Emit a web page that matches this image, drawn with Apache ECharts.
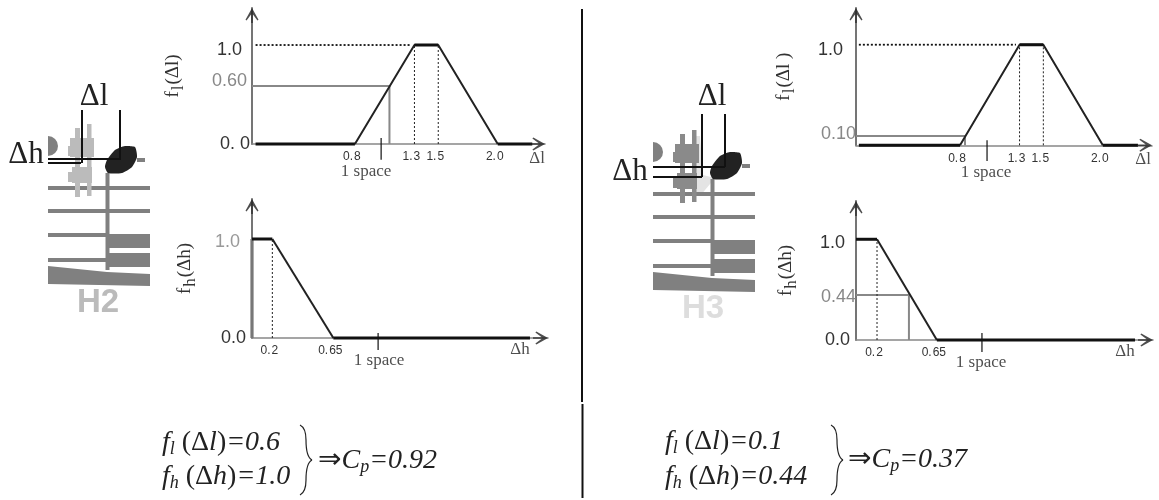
<!DOCTYPE html>
<html><head><meta charset="utf-8">
<style>html,body{margin:0;padding:0;background:#fff}#c{width:1159px;height:500px}</style>
<script src="https://cdn.jsdelivr.net/npm/echarts@6/dist/echarts.min.js"></script>
</head><body><div id="c"></div>
<script>
// ---- values ----
const lengthXLabels = [0.8, 1.3, 1.5, 2.0];
const heightXLabels = [0.2, 0.65];
const lengthCurve = [[0.8,0],[1.3,1],[1.5,1],[2.0,0]];
const heightCurve = [[0.2,1],[0.65,0]];

const tlThick = [[[-0.035,0],[0.8,0]], [[1.3,1],[1.5,1]], [[2.0,0],[2.29,0]]];
const tlDotted = [[-0.035,1],[1.27,1]];
const tlDashes = [[[1.3,0],[1.3,1]], [[1.5,0],[1.5,1]]];
const tlGray = [[-0.065,0.585],[1.09,0.585],[1.09,0]];
const tlTick = [[1.02,0.06],[1.02,-0.16]];
const tlYTicks = [0, 0.636, 0.95];
const tlYLabels = ['0. 0','0.60','1.0'];
const tlYColors = ['#333','#888','#333'];
const tlYGaps = [2,5,10];
const tlNotes = [[0.893,-0.283,'1 space'],[2.33,-0.15,'Δl']];

const blThick = [[[0.05,1],[0.2,1]], [[0.65,0],[2.1,0]]];
const blDashes = [[[0.2,0],[0.2,1]]];
const blGray = [[0.05,1],[0.05,0]];
const blTick = [[0.98,0.05],[0.98,-0.12]];
const blYTicks = [0, 0.973];
const blYLabels = ['0.0','1.0'];
const blYColors = ['#333','#999'];
const blYGaps = [6,12];
const blNotes = [[0.987,-0.232,'1 space'],[2.026,-0.12,'Δh']];

const trThick = [[[-0.05,0],[0.8,0]], [[1.3,1],[1.5,1]], [[2.0,0],[2.295,0]]];
const trDotted = [[-0.05,1],[1.27,1]];
const trDashes = [[[1.3,0],[1.3,1]], [[1.5,0],[1.5,1]]];
const trGray = [[-0.074,0.092],[0.842,0.092],[0.842,0]];
const trTick = [[1.027,0.05],[1.027,-0.157]];
const trYTicks = [0, 0.112, 0.947];
const trYLabels = ['0.0','0.10','1.0'];
const trYColors = ['#333','#888','#333'];
const trYGaps = [9,0,13];
const trNotes = [[1.018,-0.275,'1 space'],[2.338,-0.137,'Δl']];

const brThick = [[[0.042,1],[0.2,1]], [[0.65,0],[2.14,0]]];
const brDashes = [[[0.2,0],[0.2,1]]];
const brGray = [[0.042,0.447],[0.44,0.447],[0.44,0]];
const brTick = [[0.989,0.07],[0.989,-0.12]];
const brYTicks = [0, 0.43, 0.963];
const brYLabels = ['0.0','0.44','1.0'];
const brYColors = ['#333','#888','#333'];
const brYGaps = [6,0,11];
const brNotes = [[0.982,-0.228,'1 space'],[2.065,-0.119,'Δh']];

// ---- panel builder ----
const SERIF = '"Liberation Serif"', SANS = '"Liberation Sans"';
const ARROW = 'path://M50 0 L100 78 L92 84 L56 42 L56 100 L44 100 L44 42 L8 84 L0 78 Z';
const grids=[], xAxes=[], yAxes=[], series=[];

function fmtX(v){ return String(v).length===1 ? v.toFixed(1) : String(v); }
function spaced(s){ return s.replace('.', '.\u200a'); }

function panel(p){
  const i = grids.length;
  grids.push({left:p.left, top:p.top, width:p.width, height:p.height});
  const rich = {};
  p.yLabels.forEach((t,k)=>{ rich['l'+k] = {fontFamily:SANS, fontSize:18, color:p.yColors[k],
    padding:[(p.yTop&&p.yTop[k])||0,p.yGaps[k],0,0]}; });
  xAxes.push({gridIndex:i, type:'value', min:p.xMin, max:p.xMax, splitLine:{show:false},
    axisLine:{onZero:false, lineStyle:{color:'#888', width:1.6}},
    axisTick:{show:false},
    axisLabel:{customValues:p.xLabels, margin:7, fontFamily:SANS, fontSize:12, color:'#333', padding:[0,6,0,0],
      formatter:v=>spaced(fmtX(v))}});
  yAxes.push({gridIndex:i, type:'value', min:0, max:p.yMax, splitLine:{show:false},
    name:'{a|f}{b|'+p.sub+'}{a|'+p.arg+'}', nameLocation:'middle', nameGap:p.nameGap, nameRotate:90,
    nameTextStyle:{rich:{a:{fontFamily:SERIF,fontSize:19,color:'#333'}, b:{fontFamily:SERIF,fontSize:17,color:'#333',verticalAlign:'bottom',padding:[10,1,0,1]}}},
    axisLine:{onZero:false, lineStyle:{color:'#666', width:1.8}},
    axisTick:{show:false},
    axisLabel:{customValues:p.yTicks, margin:0, rich,
      formatter:v=>{const k=p.yTicks.indexOf(v); return '{l'+k+'|'+p.yLabels[k]+'}';}}});
  const line=(data,color,width,type,z)=>series.push({type:'line', xAxisIndex:i, yAxisIndex:i, data, clip:false,
    showSymbol:false, silent:true, z:z||3, lineStyle:{color,width,type:type||'solid',cap:'butt'}, emphasis:{disabled:true}});
  line(p.gray,p.grayColor||'#888',p.grayWidth||2,'solid',2);
  line(p.curve,'#222',2,'solid',3);
  p.thick.forEach(d=>line(d,'#111',3,'solid',4));
  if(p.dotted) line(p.dotted,'#111',1.8,[2,2],3);
  p.dashes.forEach(d=>line(d,'#222',1,[2,2],3));
  line(p.tick,'#111',1.2,'solid',3);
  series.push({type:'scatter', xAxisIndex:i, yAxisIndex:i, clip:false, silent:true, symbolSize:0,
    data:p.notes.map(n=>({value:[n[0],n[1]], name:n[2]})),
    label:{show:true, position:'inside', align:'center', verticalAlign:'middle', fontFamily:SERIF, color:'#222',
      fontSize:17, formatter:o=>o.name}});
  // dark open arrowheads at the axis ends
  const back=7.5;
  series.push({type:'scatter', xAxisIndex:i, yAxisIndex:i, clip:false, silent:true, z:5, symbol:ARROW, symbolSize:[13,15],
    itemStyle:{color:'#222'},
    data:[{value:[p.xMax-back*(p.xMax-p.xMin)/p.width,0],symbolRotate:-90},{value:[p.xMin,p.yMax-back*p.yMax/p.height],symbolRotate:0}]});
}

panel({left:252,top:8,width:293,height:136,xMin:-0.065,xMax:2.397,yMax:1.374,xLabels:lengthXLabels,curve:lengthCurve,
  thick:tlThick,dotted:tlDotted,dashes:tlDashes,gray:tlGray,tick:tlTick,yTicks:tlYTicks,yLabels:tlYLabels,yColors:tlYColors,yGaps:tlYGaps,notes:tlNotes,sub:'l',arg:'(Δl)',nameGap:65});
panel({left:252,top:199,width:296,height:139,xMin:0.05,xMax:2.233,yMax:1.404,xLabels:heightXLabels,curve:heightCurve,
  thick:blThick,dashes:blDashes,gray:blGray,grayWidth:3.2,grayColor:'#777',tick:blTick,yTicks:blYTicks,yLabels:blYLabels,yColors:blYColors,yGaps:blYGaps,notes:blNotes,sub:'h',arg:'(Δh)',nameGap:53});
panel({left:856,top:8,width:296,height:137.3,xMin:-0.074,xMax:2.413,yMax:1.365,xLabels:lengthXLabels,curve:lengthCurve,
  thick:trThick,dotted:trDotted,dashes:trDashes,gray:trGray,tick:trTick,yTicks:trYTicks,yLabels:trYLabels,yColors:trYColors,yGaps:trYGaps,yTop:[6,0,0],notes:trNotes,sub:'l',arg:'(Δl )',nameGap:58});
panel({left:856,top:201,width:297,height:139,xMin:0.042,xMax:2.275,yMax:1.38,xLabels:heightXLabels,curve:heightCurve,
  thick:brThick,dashes:brDashes,gray:brGray,tick:brTick,yTicks:brYTicks,yLabels:brYLabels,yColors:brYColors,yGaps:brYGaps,notes:brNotes,sub:'h',arg:'(Δh)',nameGap:56});

// ---- decoration: the glyph pictures, divider and formulas ----
const g=[];
function rect(x,y,w,h,c){ g.push({type:'rect',shape:{x,y,width:w,height:h},style:{fill:c},silent:true}); }
function poly(pts,c,smooth){ g.push({type:'polygon',shape:{points:pts,smooth:smooth||0},style:{fill:c},silent:true}); }
function seg(x1,y1,x2,y2,w,c){ g.push({type:'line',shape:{x1,y1,x2,y2},style:{stroke:c||'#111',lineWidth:w||2},silent:true,z:10}); }
function txt(x,y,text,style){ g.push({type:'text',x,y,silent:true,z:11,style:Object.assign({text,align:'center',verticalAlign:'middle',fill:'#222'},style)}); }

function glyph(dx,dy,hash,name,nameColor,nameY){
  const G='#808080';
  [[48,186,102,4],[48,209,102,4],[48,233,59,4],[107,234,43,14],[48,258,59,4],[107,253,43,14],[105.5,173,4,97],[137,158,8,4]]
    .forEach(r=>rect(r[0]+dx,r[1]+dy,r[2],r[3],G));
  poly([[48,266],[107,272],[150,274],[150,286],[48,284]].map(p=>[p[0]+dx,p[1]+dy]),G);
  g.push({type:'sector',shape:{cx:48+dx,cy:146+dy,r:10,startAngle:-Math.PI/2,endAngle:Math.PI/2},style:{fill:G},silent:true});
  [[75,128,5,69],[87,124,4.5,72],[70,138,24,19],[68,146,6,10],[72,167,20,16],[68,172,6,10]].forEach(r=>rect(r[0]+dx,r[1]+dy,r[2],r[3],hash));
  poly([[107,160],[115,150],[125,146],[135,147],[137,157],[132,167],[122,173],[108,173],[105,167]].map(p=>[p[0]+dx,p[1]+dy]),'#222',0.2);
  txt(98+dx,nameY,name,{fontFamily:SANS,fontWeight:'bold',fontSize:33,fill:nameColor});
}
glyph(0,0,'#bbbbbb','H2','#bbbbbb',303);
poly([[696,136],[700,136],[703,175],[715,178],[700,196],[695,192]],'#e4e4e4');
glyph(605,6,'#8a8a8a','H3','#dddddd',309);

// Δ guides on the glyphs
seg(82,110,82,163); seg(120,110,120,160); seg(48,159,120,159); seg(48,163,81,163);
seg(702,114,702,177); seg(725,114,725,167); seg(653,167,725,167); seg(653,177,702,177);
txt(94,97,'Δl',{fontFamily:SERIF,fontSize:31}); txt(26,155,'Δh',{fontFamily:SERIF,fontSize:31});
txt(712,97,'Δl',{fontFamily:SERIF,fontSize:31}); txt(630,172,'Δh',{fontFamily:SERIF,fontSize:31});

// divider
seg(582,9,582,402,2,'#111'); seg(582.5,404,582.5,498,2,'#111');

// formulas
const fRich={i:{fontFamily:SERIF,fontStyle:'italic',fontSize:28,fill:'#222'},
  n:{fontFamily:SERIF,fontSize:28,fill:'#222'},
  s:{fontFamily:SERIF,fontStyle:'italic',fontSize:18,fill:'#222',verticalAlign:'bottom',padding:[13,0,0,0]},
  a:{fontFamily:'"DejaVu Sans"',fontSize:28,fill:'#222'}};
function ftxt(x,y,text){ g.push({type:'text',x,y,silent:true,z:11,style:{text,rich:fRich,align:'left',verticalAlign:'middle'}}); }
function brace(x,top,bot){
  const m=(top+bot)/2, c=x+6, t=x+12;
  const b=(x1,y1,cx1,cy1,cx2,cy2,x2,y2)=>g.push({type:'bezierCurve',silent:true,shape:{x1,y1,cpx1:cx1,cpy1:cy1,cpx2:cx2,cpy2:cy2,x2,y2},style:{stroke:'#222',lineWidth:1.2,fill:null}});
  b(x,top,x+4,top+2,c,top+7,c,top+15);
  b(c,top+15,c,m-8,c+2,m-2,t,m);
  b(t,m,c+2,m+2,c,m+8,c,bot-15);
  b(c,bot-15,c,bot-7,x+4,bot-2,x,bot);
}
ftxt(162,443,'{i|f}{s|l}{n| (Δ}{i|l}{n|)}{i|=0.6}');
ftxt(162,477,'{i|f}{s|h}{n| (Δ}{i|h}{n|)}{i|=1.0}');
brace(300,425,495);
ftxt(318,461,'{a|⇒}{i|C}{s|p}{i|=0.92}');
ftxt(665,442,'{i|f}{s|l}{n| (Δ}{i|l}{n|)}{i|=0.1}');
ftxt(665,477,'{i|f}{s|h}{n| (Δ}{i|h}{n|)}{i|=0.44}');
brace(831,425,495);
ftxt(848,460,'{a|⇒}{i|C}{s|p}{i|=0.37}');

const chart=echarts.init(document.getElementById('c'),null,{renderer:'canvas'});
chart.setOption({animation:false,backgroundColor:'#fff',tooltip:{show:false},grid:grids,xAxis:xAxes,yAxis:yAxes,series,graphic:{elements:g}});
</script></body></html>
